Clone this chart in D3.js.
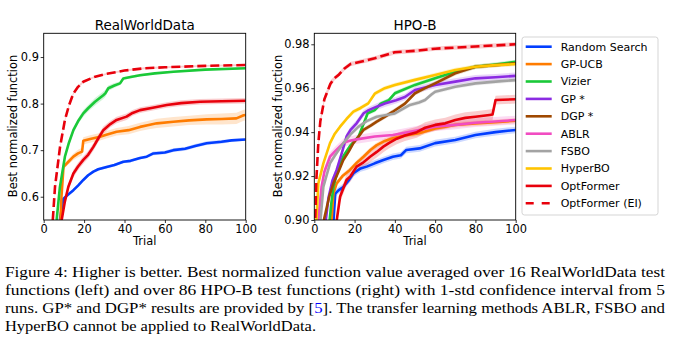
<!DOCTYPE html>
<html>
<head>
<meta charset="utf-8">
<script src="https://cdn.jsdelivr.net/npm/d3@7"></script>
<style>
  body { margin: 0; background: #fff; }
  svg { display: block; }
</style>
</head>
<body>
<svg id="fig" width="674" height="343"></svg>
<script>
// ---- data: [trial, mean, std] ----
const xTicks = [0, 20, 40, 60, 80, 100];
const rwTicks = [0.6, 0.7, 0.8, 0.9];
const hpTicks = [0.90, 0.92, 0.94, 0.96, 0.98];

const names = ['Random Search', 'GP-UCB', 'Vizier', 'GP *', 'DGP *', 'ABLR', 'FSBO', 'HyperBO', 'OptFormer', 'OptFormer (EI)'];
const colors = ['#023eff', '#ff7c00', '#1ac938', '#8b2be2', '#9f4800', '#f14cc1', '#a3a3a3', '#ffc400', '#e8000b', '#e8000b'];

// RealWorldData
const rwRandom = [[8,0.55,0.002],[9.7,0.595,0.003],[11.4,0.602,0.003],[14.7,0.614,0.003],[17,0.624,0.003],[19.6,0.636,0.003],[22,0.646,0.003],[24.6,0.654,0.003],[27,0.659,0.003],[31.2,0.664,0.003],[35,0.668,0.003],[39.4,0.675,0.003],[43,0.677,0.003],[47.7,0.683,0.003],[51,0.686,0.003],[54.3,0.693,0.004],[60,0.695,0.004],[64.2,0.700,0.004],[70,0.703,0.004],[75,0.709,0.004],[80.7,0.715,0.004],[88,0.718,0.004],[93,0.721,0.003],[100,0.723,0.003]];
const rwUcb = [[8.3,0.55,0.004],[8.8,0.60,0.004],[9.8,0.664,0.005],[12,0.674,0.006],[14.7,0.686,0.007],[17,0.693,0.008],[19,0.697,0.008],[19.6,0.72,0.008],[23,0.724,0.008],[27.9,0.729,0.008],[31,0.733,0.008],[36.1,0.7396,0.008],[42,0.743,0.009],[47.7,0.750,0.009],[52,0.754,0.009],[56,0.7576,0.010],[64.2,0.761,0.010],[72,0.764,0.010],[80.7,0.7662,0.011],[88,0.767,0.012],[95.4,0.7683,0.012],[99,0.775,0.012],[100,0.7755,0.012]];
const rwVizier = [[6.4,0.55,0.003],[8,0.62,0.004],[10.5,0.686,0.005],[12.5,0.716,0.006],[14.7,0.743,0.006],[17,0.762,0.006],[19.6,0.779,0.007],[22,0.79,0.007],[25.4,0.804,0.008],[29.5,0.818,0.008],[30.5,0.822,0.008],[32,0.833,0.006],[35,0.839,0.005],[37.8,0.8435,0.004],[39.4,0.854,0.003],[43,0.857,0.003],[47.7,0.861,0.003],[55,0.865,0.002],[64.2,0.8685,0.002],[80,0.873,0.002],[100,0.876,0.002]];
const rwOpt = [[8.9,0.55,0.004],[10.5,0.59,0.006],[12.2,0.6215,0.008],[14.7,0.650,0.008],[17,0.665,0.008],[19.6,0.679,0.008],[22,0.69,0.008],[24.6,0.707,0.008],[27,0.725,0.008],[29.5,0.743,0.008],[33,0.756,0.007],[36.1,0.765,0.007],[41,0.772,0.007],[44,0.78,0.006],[47.7,0.786,0.006],[54,0.791,0.006],[60.9,0.797,0.006],[68,0.801,0.006],[77.4,0.804,0.006],[88,0.805,0.006],[100,0.806,0.006]];
const rwOptEI = [[4.5,0.55,0.003],[5.6,0.6215,0.003],[8.1,0.7074,0.003],[10.5,0.7647,0.003],[12.5,0.796,0.003],[14.7,0.822,0.003],[17,0.836,0.003],[19.6,0.847,0.003],[25,0.857,0.002],[31.2,0.864,0.002],[40,0.871,0.002],[50,0.876,0.002],[60,0.878,0.002],[80,0.881,0.002],[100,0.883,0.002]];

// HPO-B
const hpRandom = [[9.5,0.899,0.0015],[10.4,0.912,0.0015],[12,0.9135,0.0015],[14.4,0.915,0.0015],[17,0.918,0.0015],[19.4,0.9213,0.0015],[23,0.9235,0.0015],[26,0.9243,0.0015],[30,0.9258,0.0015],[34.3,0.9273,0.0015],[39,0.9288,0.0015],[43,0.9295,0.0015],[45.7,0.9319,0.0015],[52.3,0.9326,0.0015],[60,0.935,0.0015],[70,0.9364,0.0015],[80,0.9387,0.0015],[90,0.940,0.0015],[100,0.941,0.0015]];
const hpUcb = [[8.5,0.899,0.0012],[9.5,0.912,0.0012],[11.1,0.9167,0.0012],[14,0.920,0.0012],[17.7,0.9228,0.0012],[21,0.926,0.0012],[24.4,0.9288,0.0012],[28,0.932,0.0012],[31,0.9341,0.0012],[35,0.936,0.0012],[39,0.9372,0.0012],[45,0.9385,0.0012],[52,0.9395,0.0012],[60,0.9417,0.0012],[70,0.9433,0.0012],[80,0.944,0.0012],[90,0.9445,0.0012],[100,0.9452,0.0012]];
const hpVizier = [[7.5,0.899,0.001],[8.5,0.908,0.001],[9.5,0.915,0.001],[12,0.924,0.001],[14.4,0.929,0.001],[18,0.934,0.001],[22,0.938,0.001],[25.4,0.946,0.001],[26.5,0.9486,0.001],[30,0.950,0.001],[33,0.953,0.001],[37,0.9546,0.001],[40,0.9577,0.001],[50,0.9615,0.001],[60,0.9645,0.001],[70,0.9675,0.001],[80,0.9698,0.001],[90,0.9708,0.001],[100,0.972,0.001]];
const hpGp = [[5.6,0.899,0.0015],[7,0.910,0.0015],[9,0.918,0.0015],[11.1,0.9228,0.0015],[13.5,0.93,0.0015],[16,0.938,0.0015],[18,0.941,0.0015],[21,0.944,0.0015],[24.5,0.9486,0.0015],[27,0.950,0.0015],[31,0.9516,0.0015],[35,0.953,0.0015],[40.6,0.9545,0.0015],[45,0.956,0.0015],[50,0.9592,0.0015],[60,0.9615,0.0015],[70,0.963,0.0015],[80,0.9645,0.0015],[90,0.965,0.0015],[100,0.9656,0.0015]];
const hpDgp = [[4.5,0.899,0.001],[6,0.905,0.001],[7.5,0.911,0.001],[9.5,0.9167,0.001],[12,0.922,0.001],[14.4,0.9273,0.001],[17,0.931,0.001],[19.4,0.935,0.001],[22,0.938,0.001],[24.4,0.941,0.001],[28,0.943,0.001],[31,0.9448,0.001],[35,0.947,0.001],[39,0.9493,0.001],[45,0.953,0.001],[50,0.9577,0.001],[55,0.96,0.001],[60,0.9622,0.001],[70,0.9668,0.001],[80,0.9698,0.001],[90,0.9705,0.001],[100,0.9713,0.001]];
const hpAblr = [[2,0.899,0.002],[2.5,0.905,0.002],[3.6,0.915,0.002],[5,0.922,0.002],[7.8,0.9288,0.002],[10,0.931,0.002],[14.4,0.935,0.002],[17,0.936,0.002],[21,0.9367,0.002],[30,0.938,0.002],[39,0.9387,0.002],[52,0.941,0.002],[60,0.9425,0.002],[70,0.9433,0.002],[80,0.9443,0.002],[100,0.9455,0.002]];
const hpFsbo = [[3,0.899,0.001],[4.5,0.9151,0.001],[6,0.92,0.001],[7.8,0.9258,0.001],[10,0.929,0.001],[14.4,0.935,0.001],[18,0.939,0.001],[22,0.9425,0.001],[26,0.945,0.001],[31,0.947,0.001],[40,0.9485,0.001],[47.5,0.9524,0.001],[52,0.9535,0.001],[55,0.9546,0.001],[58,0.957,0.001],[60,0.9584,0.001],[70,0.9607,0.001],[80,0.9622,0.001],[90,0.963,0.001],[100,0.9637,0.001]];
const hpHyper = [[1,0.899,0.001],[2,0.9167,0.001],[4.5,0.9258,0.001],[7.8,0.935,0.001],[10,0.939,0.001],[12.8,0.9425,0.001],[16,0.946,0.001],[19.4,0.9493,0.001],[23,0.951,0.001],[26.8,0.9531,0.001],[30,0.9575,0.001],[35,0.96,0.001],[40,0.9615,0.001],[50,0.9638,0.001],[60,0.966,0.001],[70,0.9683,0.001],[80,0.9698,0.001],[90,0.9705,0.001],[100,0.971,0.001]];
const hpOpt = [[11,0.899,0.002],[12.8,0.9106,0.0025],[16,0.9182,0.0025],[18,0.920,0.0025],[21,0.9243,0.0025],[24,0.926,0.0025],[27.7,0.9288,0.0025],[31,0.931,0.0025],[34.3,0.9334,0.0025],[37,0.935,0.0025],[40.9,0.937,0.0025],[45,0.9385,0.0025],[50.9,0.940,0.0025],[55,0.942,0.0025],[60,0.9433,0.0025],[65,0.944,0.0025],[70,0.9455,0.0025],[75,0.9465,0.0025],[80,0.947,0.0025],[87,0.9478,0.0025],[88.5,0.948,0.0025],[90,0.9546,0.002],[100,0.955,0.002]];
const hpOptEI = [[0.3,0.895,0.001],[1,0.918,0.0015],[2,0.935,0.0015],[3,0.945,0.0015],[5,0.955,0.0015],[8,0.962,0.0015],[10,0.9645,0.001],[12,0.966,0.001],[15,0.969,0.001],[18,0.971,0.001],[20,0.9714,0.001],[25,0.9725,0.001],[30,0.9736,0.001],[35,0.975,0.001],[40,0.9764,0.001],[50,0.977,0.001],[60,0.978,0.001],[80,0.979,0.001],[100,0.980,0.001]];

const captionLines = [
  'Figure 4: Higher is better. Best normalized function value averaged over 16 RealWorldData test',
  'functions (left) and over 86 HPO-B test functions (right) with 1-std confidence interval from 5',
  ['runs. GP* and DGP* results are provided by [', '5', ']. The transfer learning methods ABLR, FSBO and'],
  'HyperBO cannot be applied to RealWorldData.'
];

// ---- drawing ----
const sv = d3.select('#fig');
const FONT = 'DejaVu Sans, sans-serif';

function drawPanel(opt) {
  const x = d3.scaleLinear().domain([0, 100]).range([opt.x0, opt.x1]);
  const y = d3.scaleLinear().domain(opt.yDom).range([opt.y1, opt.y0]);
  const g = sv.append('g');

  g.append('clipPath').attr('id', opt.id + '-clip')
    .append('rect')
    .attr('x', opt.x0).attr('y', opt.y0)
    .attr('width', opt.x1 - opt.x0).attr('height', opt.y1 - opt.y0);

  const pl = g.append('g').attr('clip-path', `url(#${opt.id}-clip)`);

  const ar = d3.area().x(d => x(d[0])).y0(d => y(d[1] - d[2])).y1(d => y(d[1] + d[2]));
  const li = d3.line().x(d => x(d[0])).y(d => y(d[1]));

  opt.series.forEach(s => {
    pl.append('path').attr('d', ar(s.data))
      .attr('fill', colors[s.k]).attr('fill-opacity', 0.2).attr('stroke', 'none');
  });
  opt.series.forEach(s => {
    pl.append('path').attr('d', li(s.data))
      .attr('fill', 'none').attr('stroke', colors[s.k])
      .attr('stroke-width', 2.6)
      .attr('stroke-linejoin', 'round')
      .attr('stroke-dasharray', s.k === 9 ? '9,4' : null);
  });

  // frame
  g.append('rect')
    .attr('x', opt.x0).attr('y', opt.y0)
    .attr('width', opt.x1 - opt.x0).attr('height', opt.y1 - opt.y0)
    .attr('fill', 'none').attr('stroke', '#000').attr('stroke-width', 0.9);

  const xa = g.append('g').attr('transform', `translate(0,${opt.y1})`)
    .call(d3.axisBottom(x).tickValues(xTicks).tickSize(3).tickPadding(2));
  const ya = g.append('g').attr('transform', `translate(${opt.x0},0)`)
    .call(d3.axisLeft(y).tickValues(opt.ticks).tickFormat(d3.format(opt.fmt)).tickSize(3).tickPadding(1.8));
  [xa, ya].forEach(a => {
    a.select('.domain').remove();
    a.selectAll('line').attr('stroke', '#000').attr('stroke-width', 0.8);
    a.selectAll('text').style('font-family', FONT).style('font-size', '11.4px').attr('fill', '#000');
  });

  g.append('text')
    .attr('x', (opt.x0 + opt.x1) / 2).attr('y', 30)
    .attr('text-anchor', 'middle')
    .style('font-family', FONT).style('font-size', '13.5px')
    .text(opt.title);

  g.append('text')
    .attr('x', (opt.x0 + opt.x1) / 2).attr('y', 245)
    .attr('text-anchor', 'middle')
    .style('font-family', FONT).style('font-size', '11.4px')
    .text('Trial');

  g.append('text')
    .attr('transform', `translate(${opt.labX},126) rotate(-90)`)
    .attr('text-anchor', 'middle')
    .style('font-family', FONT).style('font-size', '11.4px')
    .text('Best normalized function');
}

drawPanel({
  id: 'rw', title: 'RealWorldData',
  x0: 43.7, x1: 245.7, y0: 33.3, y1: 220,
  yDom: [0.55, 0.951], ticks: rwTicks, fmt: '.1f', labX: 17.3,
  series: [
    { k: 0, data: rwRandom }, { k: 1, data: rwUcb }, { k: 2, data: rwVizier },
    { k: 8, data: rwOpt }, { k: 9, data: rwOptEI }
  ]
});

drawPanel({
  id: 'hp', title: 'HPO-B',
  x0: 314.3, x1: 515.7, y0: 33.3, y1: 220,
  yDom: [0.90, 0.985], ticks: hpTicks, fmt: '.2f', labX: 281.7,
  series: [
    { k: 0, data: hpRandom }, { k: 1, data: hpUcb }, { k: 2, data: hpVizier },
    { k: 3, data: hpGp }, { k: 4, data: hpDgp }, { k: 5, data: hpAblr },
    { k: 6, data: hpFsbo }, { k: 7, data: hpHyper }, { k: 8, data: hpOpt },
    { k: 9, data: hpOptEI }
  ]
});

// legend
const le = sv.append('g');
le.append('rect')
  .attr('x', 522).attr('y', 37).attr('width', 136).attr('height', 178)
  .attr('rx', 2.5)
  .attr('fill', '#fff').attr('stroke', '#d0d0d0').attr('stroke-width', 0.9);

const le_it = le.selectAll('.li').data(names).enter().append('g')
  .attr('transform', (d, i) => `translate(0,${46.7 + i * 17.4})`);
le_it.append('line')
  .attr('x1', 525.7).attr('x2', 551.7)
  .attr('stroke', (d, i) => colors[i]).attr('stroke-width', 2.6)
  .attr('stroke-dasharray', (d, i) => i === 9 ? '8,8' : null);
le_it.append('text')
  .attr('x', 560.7).attr('dy', '0.36em')
  .style('font-family', FONT).style('font-size', '11px')
  .text(d => d);

// caption
const capY = [276.5, 294.5, 312.5, 330.5];
const capW = [660, 660, 660, 311];
const cap = sv.append('g')
  .style('font-family', '"Liberation Serif", "Times New Roman", serif')
  .style('font-size', '14px');
captionLines.forEach((ln, i) => {
  const t = cap.append('text')
    .attr('x', 5).attr('y', capY[i])
    .attr('textLength', capW[i])
    .attr('lengthAdjust', 'spacingAndGlyphs');
  if (Array.isArray(ln)) {
    ln.forEach((part, j) => {
      t.append('tspan').attr('fill', j === 1 ? '#0000ff' : '#000').text(part);
    });
  } else {
    t.text(ln);
  }
});
</script>
</body>
</html>
